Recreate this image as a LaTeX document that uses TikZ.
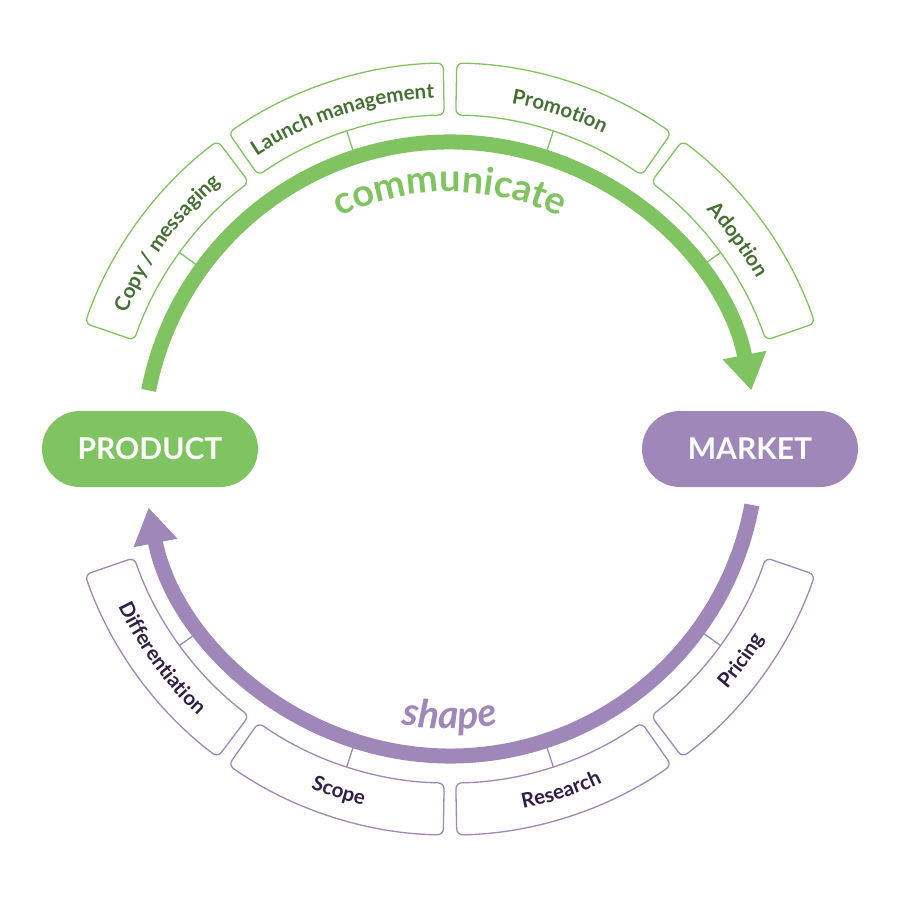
\documentclass[tikz,border=0pt]{standalone}
\usepackage{fontspec}
\setmainfont{Lato}
\usetikzlibrary{arrows.meta,decorations.text}
\definecolor{commgreen}{HTML}{80C361}
\definecolor{commdark}{HTML}{456F33}
\definecolor{shapepurple}{HTML}{A087B9}
\definecolor{shapedark}{HTML}{2F1E45}
\newcommand{\boxfont}{\fontsize{20.5}{24}\selectfont\bfseries}
\newcommand{\cyclefont}{\fontsize{38}{44}\selectfont\bfseries}

\begin{document}
\begin{tikzpicture}[x=1pt,y=1pt,
    pill/.style={rectangle,rounded corners=38pt,minimum width=216pt,minimum height=76pt,
      text=white,font=\fontsize{30}{36}\selectfont\bfseries},
    flow/.style={line width=15pt,-{Triangle[length=36pt,width=42pt]}},
    seg/.style={line width=1.3pt,rounded corners=6pt},
    tick/.style={line width=1.3pt}]
  \useasboundingbox (-450,-451) rectangle (450,449);

  % labels round the top: communicate
  \foreach \a/\t in {144/{Copy / messaging},108/{Launch management},72/Promotion,36/Adoption}{
    \draw[seg,commgreen] (\a-17:334pt) arc[start angle=\a-17,end angle=\a+17,radius=334pt]
      -- (\a+17:386pt) arc[start angle=\a+17,end angle=\a-17,radius=386pt] -- cycle;
    \draw[tick,commgreen] (\a:307pt) -- (\a:334pt);
    \path[decorate,decoration={text along path,text align=center,text color=commdark,
        text/.expanded={|\noexpand\boxfont|\t}}]
      (\a+17:351pt) arc[start angle=\a+17,end angle=\a-17,radius=351pt];
  }
  % labels round the bottom: shape
  \foreach \a/\t in {216/Differentiation,252/Scope,288/Research,324/Pricing}{
    \draw[seg,shapepurple] (\a-17:334pt) arc[start angle=\a-17,end angle=\a+17,radius=334pt]
      -- (\a+17:386pt) arc[start angle=\a+17,end angle=\a-17,radius=386pt] -- cycle;
    \draw[tick,shapepurple] (\a:307pt) -- (\a:334pt);
    \path[decorate,decoration={text along path,text align=center,text color=shapedark,
        text/.expanded={|\noexpand\boxfont|\t}}]
      (\a-17:367pt) arc[start angle=\a-17,end angle=\a+17,radius=367pt];
  }

  \node[pill,fill=commgreen]   (product) at (-300,0) {PRODUCT};
  \node[pill,fill=shapepurple] (market)  at (300,0)  {MARKET};

  \coordinate (commstart)  at (169:307pt);
  \coordinate (shapestart) at (-10.5:307pt);
  \draw[flow,commgreen]   (commstart)  arc[start angle=169,end angle=11,radius=307pt];
  \draw[flow,shapepurple] (shapestart) arc[start angle=-10.5,end angle=-169,radius=307pt];

  \path[decorate,decoration={text along path,text align=center,text color=commgreen,
      text={|\cyclefont|communicate}}]
    (130:257pt) arc[start angle=130,end angle=50,radius=257pt];
  \path[decorate,decoration={text along path,text align=center,text color=shapepurple,
      text={|\fontsize{39}{45}\selectfont\bfseries\itshape|shape}}]
    (250:280pt) arc[start angle=250,end angle=290,radius=280pt];
\end{tikzpicture}
\end{document}
